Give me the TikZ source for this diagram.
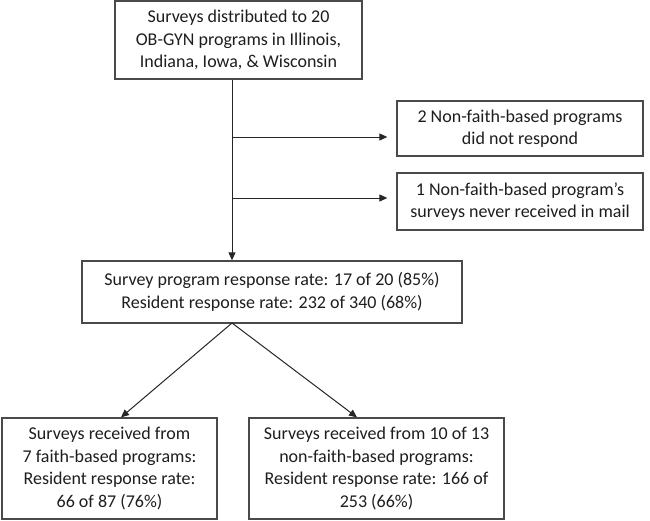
\documentclass[tikz,border=0pt]{standalone}
\usepackage{fontspec}
\setmainfont{Carlito}
\usetikzlibrary{arrows.meta}
\definecolor{txt}{HTML}{1E1E1E}
\definecolor{ln}{HTML}{4A4A4A}
\begin{document}
\begin{tikzpicture}[x=1pt,y=-1pt,
  box/.style={draw=ln,line width=1.3pt,fill=white,align=center,inner sep=0pt,
    text=txt,font=\fontsize{18}{22.5}\selectfont},
  conn/.style={draw=black!85,line width=1pt},
  arr/.style={conn,-{Triangle[length=8pt,width=7pt]}}]
\useasboundingbox (0,0) rectangle (650,520);
\node[box,minimum width=247pt,minimum height=78pt] (top) at (238.5,40) {Surveys distributed to 20\\OB-GYN programs in Illinois,\\Indiana, Iowa, \& Wisconsin};
\node[box,minimum width=246pt,minimum height=55pt] (b2) at (520,128.5) {2 Non-faith-based programs\\did not respond};
\node[box,minimum width=246pt,minimum height=57pt] (b3) at (520,201.5) {1 Non-faith-based program’s\\surveys never received in mail};
\node[box,minimum width=380pt,minimum height=62pt] (mid) at (272,292) {Survey program response rate: 17 of 20 (85\%)\\Resident response rate: 232 of 340 (68\%)};
\node[box,minimum width=215pt,minimum height=101pt] (lft) at (109.5,468.5) {Surveys received from\\7 faith-based programs:\\Resident response rate:\\66 of 87 (76\%)};
\node[box,minimum width=255pt,minimum height=101pt] (rgt) at (376.5,468.5) {Surveys received from 10 of 13\\non-faith-based programs:\\Resident response rate: 166 of\\253 (66\%)};
\coordinate (v) at (232,0);
\coordinate (j1) at (232,137);
\coordinate (j2) at (232,198);
\coordinate (apex) at (232,323);
\draw[arr] (top.south -| v) -- (mid.north -| v);
\draw[arr,shorten >=9pt] (j1) -- (j1 -| b2.west);
\draw[arr,shorten >=9pt] (j2) -- (j2 -| b3.west);
\draw[arr] (apex) -- (lft.north -| 121,0);
\draw[arr] (apex) -- (rgt.north -| 357,0);
\end{tikzpicture}
\end{document}
